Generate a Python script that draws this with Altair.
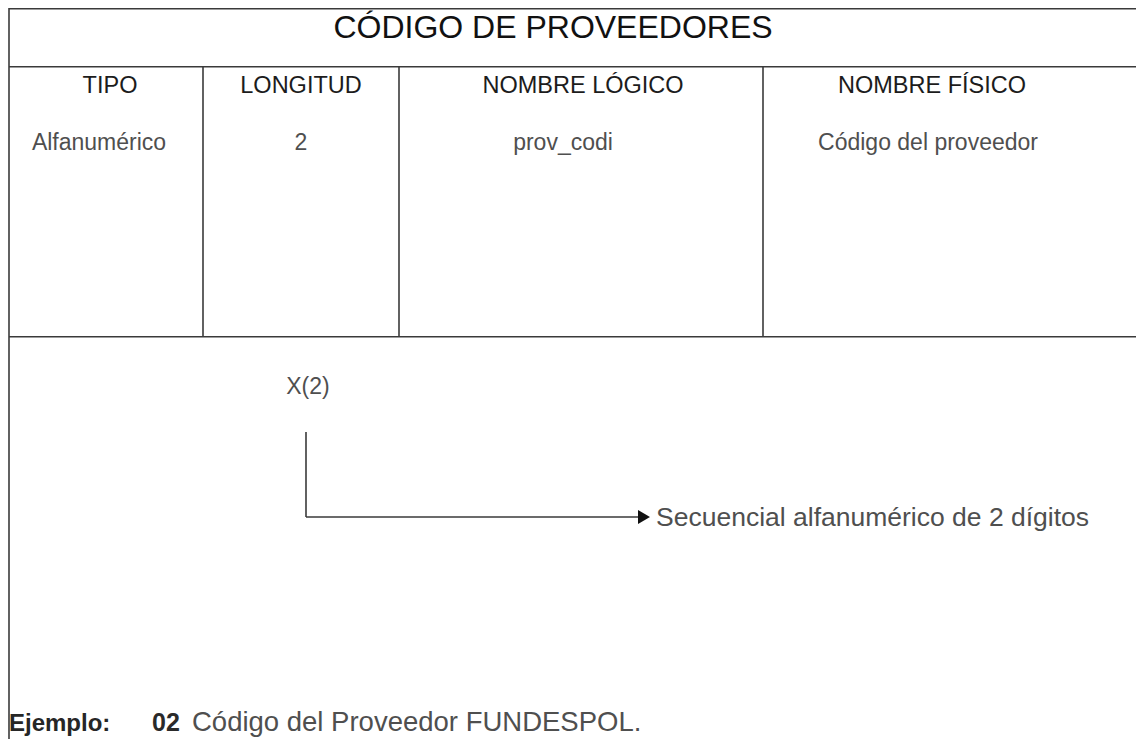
import altair as alt
import pandas as pd

# ---- content -------------------------------------------------------------
title_text = ["CÓDIGO DE PROVEEDORES"]
headers = ["TIPO", "LONGITUD", "NOMBRE LÓGICO", "NOMBRE FÍSICO"]
values = ["Alfanumérico", "2", "prov_codi", "Código del proveedor"]
format_text = ["X(2)"]
format_note = ["Secuencial alfanumérico de 2 dígitos"]
example_label = ["Ejemplo:"]
example_code = ["02"]
example_text = ["Código del Proveedor FUNDESPOL."]

# ---- layout (page pixel coordinates of the drawing) -----------------------
col_edges = [9, 203, 399, 763, 1141]
row_edges = [8, 66, 336, 739]
header_centers = [110, 301, 583, 932]
value_centers = [99, 301, 563, 928]
W, H = 1128, 731

X = alt.Scale(domain=[8, 8 + W], range=[0, W])
Y = alt.Scale(domain=[8, 8 + H], range=[0, H])

def xq(f):
    return alt.X(f, type="quantitative", scale=X, axis=None)

def yq(f):
    return alt.Y(f, type="quantitative", scale=Y, axis=None)

# lines of the table
lines = []
for r in row_edges[:3]:
    lines.append(dict(x=col_edges[0], x2=1144, y=r + 0.8, y2=r + 0.8))
lines.append(dict(x=col_edges[0], x2=col_edges[0], y=row_edges[0], y2=row_edges[3]))
for c in col_edges[1:4]:
    lines.append(dict(x=c, x2=c, y=row_edges[1], y2=row_edges[2]))
# arrow
lines.append(dict(x=306, x2=306, y=432, y2=517))
lines.append(dict(x=306, x2=640, y=517, y2=517))
lines_df = pd.DataFrame(lines)

rules = alt.Chart(lines_df).mark_rule(color="#3a3a3a", strokeWidth=1.6).encode(
    x=xq("x"), x2="x2", y=yq("y"), y2="y2"
)

head_df = pd.DataFrame({"x": [644], "y": [517]})
arrowhead = alt.Chart(head_df).mark_point(
    shape="triangle-right", filled=True, color="#111", size=190, opacity=1
).encode(x=xq("x"), y=yq("y"))

FONT = "Liberation Sans"

title_df = pd.DataFrame({"t": title_text, "x": [553], "y": [38]})
title = alt.Chart(title_df).mark_text(
    font=FONT, fontSize=32, color="#111", align="center", baseline="alphabetic"
).encode(x=xq("x"), y=yq("y"), text="t")

hdr_df = pd.DataFrame({"t": headers, "x": header_centers, "y": [93] * 4})
hdr = alt.Chart(hdr_df).mark_text(
    font=FONT, fontSize=23.5, color="#1c1c1c", align="center", baseline="alphabetic"
).encode(x=xq("x"), y=yq("y"), text="t")

val_df = pd.DataFrame({"t": values, "x": value_centers, "y": [150] * 4})
val = alt.Chart(val_df).mark_text(
    font=FONT, fontSize=23, color="#4f4f4f", align="center", baseline="alphabetic"
).encode(x=xq("x"), y=yq("y"), text="t")

fmt_df = pd.DataFrame({"t": format_text, "x": [308], "y": [394]})
fmt = alt.Chart(fmt_df).mark_text(
    font=FONT, fontSize=23, color="#4f4f4f", align="center", baseline="alphabetic"
).encode(x=xq("x"), y=yq("y"), text="t")

note_df = pd.DataFrame({"t": format_note, "x": [656], "y": [526]})
note = alt.Chart(note_df).mark_text(
    font=FONT, fontSize=26.5, color="#4f4f4f", align="left", baseline="alphabetic"
).encode(x=xq("x"), y=yq("y"), text="t")

exl_df = pd.DataFrame({"t": example_label, "x": [9], "y": [731]})
exl = alt.Chart(exl_df).mark_text(
    font=FONT, fontSize=24, fontWeight="bold", color="#262626", align="left",
    baseline="alphabetic"
).encode(x=xq("x"), y=yq("y"), text="t")

exc_df = pd.DataFrame({"t": example_code, "x": [152], "y": [731]})
exc = alt.Chart(exc_df).mark_text(
    font=FONT, fontSize=25, fontWeight="bold", color="#2a2a2a", align="left",
    baseline="alphabetic"
).encode(x=xq("x"), y=yq("y"), text="t")

ext_df = pd.DataFrame({"t": example_text, "x": [192], "y": [731]})
ext = alt.Chart(ext_df).mark_text(
    font=FONT, fontSize=27.5, color="#4f4f4f", align="left", baseline="alphabetic"
).encode(x=xq("x"), y=yq("y"), text="t")

chart = alt.layer(rules, arrowhead, title, hdr, val, fmt, note, exl, exc, ext).properties(
    width=W, height=H, padding=0, autosize=alt.AutoSizeParams(type="none"),
    background="white"
).configure_view(stroke=None)

chart.save("out.html", embed_options={"renderer": "svg", "actions": False})
